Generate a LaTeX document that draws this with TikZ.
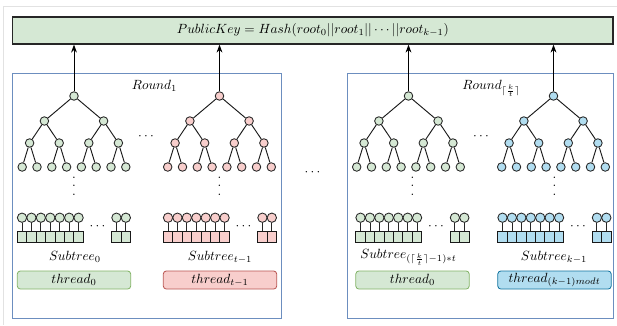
\documentclass[tikz,border=0pt]{standalone}
\usetikzlibrary{arrows.meta}

\definecolor{gfill}{HTML}{D5E8D4}
\definecolor{gline}{HTML}{82B366}
\definecolor{rfill}{HTML}{F8CECC}
\definecolor{rline}{HTML}{B85450}
\definecolor{bfill}{HTML}{B1DDF0}
\definecolor{bline}{HTML}{10739E}
\definecolor{rndline}{HTML}{6C8EBF}
\definecolor{frame}{HTML}{E2E2E2}

% three stacked dots with wider spacing than \vdots
\newcommand\tallvdots{\vbox{\baselineskip=6.4pt\lineskiplimit=0pt\hbox{.}\hbox{.}\hbox{.}}}

% complete binary tree of depth 3: prefix, centre x, fill colour
\newcommand\bintree[3]{%
  \foreach \i/\dx/\yy in {1/0/96, 2/-2/121, 3/2/121,
      4/-3/143, 5/-1/143, 6/1/143, 7/3/143,
      8/-3.5/167, 9/-2.5/167, 10/-1.5/167, 11/-0.5/167,
      12/0.5/167, 13/1.5/167, 14/2.5/167, 15/3.5/167}
    \node[tnode, fill=#3] (#1-\i) at ({#2+\dx*14.8},\yy) {};
  \foreach \i in {1,...,7} {
    \pgfmathtruncatemacro\lc{2*\i}
    \pgfmathtruncatemacro\rc{2*\i+1}
    \draw[tedge] (#1-\i) -- (#1-\lc);
    \draw[tedge] (#1-\i) -- (#1-\rc);
  }
}

% row of leaves with their one-time keys: prefix, centre x, fill colour
\newcommand\leafrow[3]{%
  \foreach \k/\off in {0/-51.985, 1/-42.555, 2/-33.125, 3/-23.695,
      4/-14.265, 5/-4.835, 6/4.595, 7/42.415, 8/51.845} {
    \node[lcirc, fill=#3] (#1-c\k) at ({#2+\off},217.7) {};
    \node[lsq, fill=#3] (#1-s\k) at ({#2+\off},237) {};
    \draw[stem] (#1-c\k.south) -- (#1-s\k.north);
  }
  \node[dots] (#1-hd) at ({#2+23.5},227) {$\cdots$};
}

\begin{document}
\begin{tikzpicture}[x=0.75pt, y=-0.75pt,
  tnode/.style={circle, draw=black!85, line width=0.65pt, inner sep=0pt, minimum size=6.4pt},
  tedge/.style={line width=0.7pt, black!90},
  lcirc/.style={circle, draw=black!85, line width=0.65pt, inner sep=0pt, minimum size=7pt},
  lsq/.style={rectangle, draw=black!90, line width=0.7pt, inner sep=0pt,
              minimum width=7.07pt, minimum height=7.9pt},
  stem/.style={line width=0.65pt, black!85},
  dots/.style={inner sep=0pt},
  pkbox/.style={rectangle, draw=black!85, line width=0.9pt, fill=gfill,
                minimum width=450.2pt, minimum height=20.25pt, inner sep=0pt},
  roundbox/.style={rectangle, draw=rndline, line width=0.6pt,
                   minimum width=#1, minimum height=183.75pt, inner sep=0pt},
  thr/.style={rectangle, rounded corners=2.2pt, line width=0.6pt,
              minimum width=85pt, minimum height=13.5pt, inner sep=0pt},
  arr/.style={line width=0.75pt, -{Stealth[length=6pt, width=4.4pt]}},
]
\useasboundingbox (0,0) rectangle (617,325);

% thin page frame
\draw[frame, line width=0.8pt] (3.5,325) -- (3.5,6.5) -- (617,6.5);

% public key box
\node[pkbox] (pk) at (312.85,30.5) {$PublicKey = Hash(root_0||root_1||\cdots||root_{k-1})$};

% the two rounds
\node[roundbox=201.2pt] (rnd1) at (146.85,195.5) {};
\node[roundbox=199.9pt] (rnd2) at (480.25,195.5) {};
\node[anchor=base, inner sep=0pt] (rnd1-lab) at (154.5,89.5) {$Round_1$};
\node[anchor=base, inner sep=0pt] (rnd2-lab) at (491.5,89.5) {$Round_{\lceil\frac{k}{t}\rceil}$};

% trees
\bintree{ta}{74}{gfill}
\bintree{tb}{219.5}{rfill}
\bintree{tc}{408.5}{gfill}
\bintree{td}{553.5}{bfill}

\node[dots] (hd1) at (146,137) {$\cdots$};
\node[dots] (hd2) at (481,137) {$\cdots$};
\node[dots] (hdm) at (312.5,173) {$\cdots$};

% vertical ellipses
\node[dots] (va) at (74,186) {\tallvdots};
\node[dots] (vb) at (219.5,186) {\tallvdots};
\node[dots] (vc) at (412.5,186) {\tallvdots};
\node[dots] (vd) at (554.5,186) {\tallvdots};

% leaf rows
\leafrow{la}{74}{gfill}
\leafrow{lb}{220}{rfill}
\leafrow{lc}{412.5}{gfill}
\leafrow{ld}{554.5}{bfill}

% subtree labels
\node (sa) at (75,257) {$Subtree_0$};
\node (sb) at (220,257) {$Subtree_{t-1}$};
\node[inner sep=1pt] (sc) at (408.5,257) {$Subtree_{(\lceil\frac{k}{t}\rceil-1)*t}$};
\node (sd) at (554,257) {$Subtree_{k-1}$};

% threads
\node[thr, fill=gfill, draw=gline] (tha) at (74,280) {$thread_0$};
\node[thr, fill=rfill, draw=rline] (thb) at (220,280) {$thread_{t-1}$};
\node[thr, fill=gfill, draw=gline] (thc) at (412.5,280) {$thread_0$};
\node[thr, fill=bfill, draw=bline] (thd) at (554.5,280) {$thread_{(k-1)modt}$};

% roots feed the public key
\foreach \t in {ta,tb,tc,td}
  \draw[arr] (\t-1) -- (\t-1 |- pk.south);
\end{tikzpicture}
\end{document}
